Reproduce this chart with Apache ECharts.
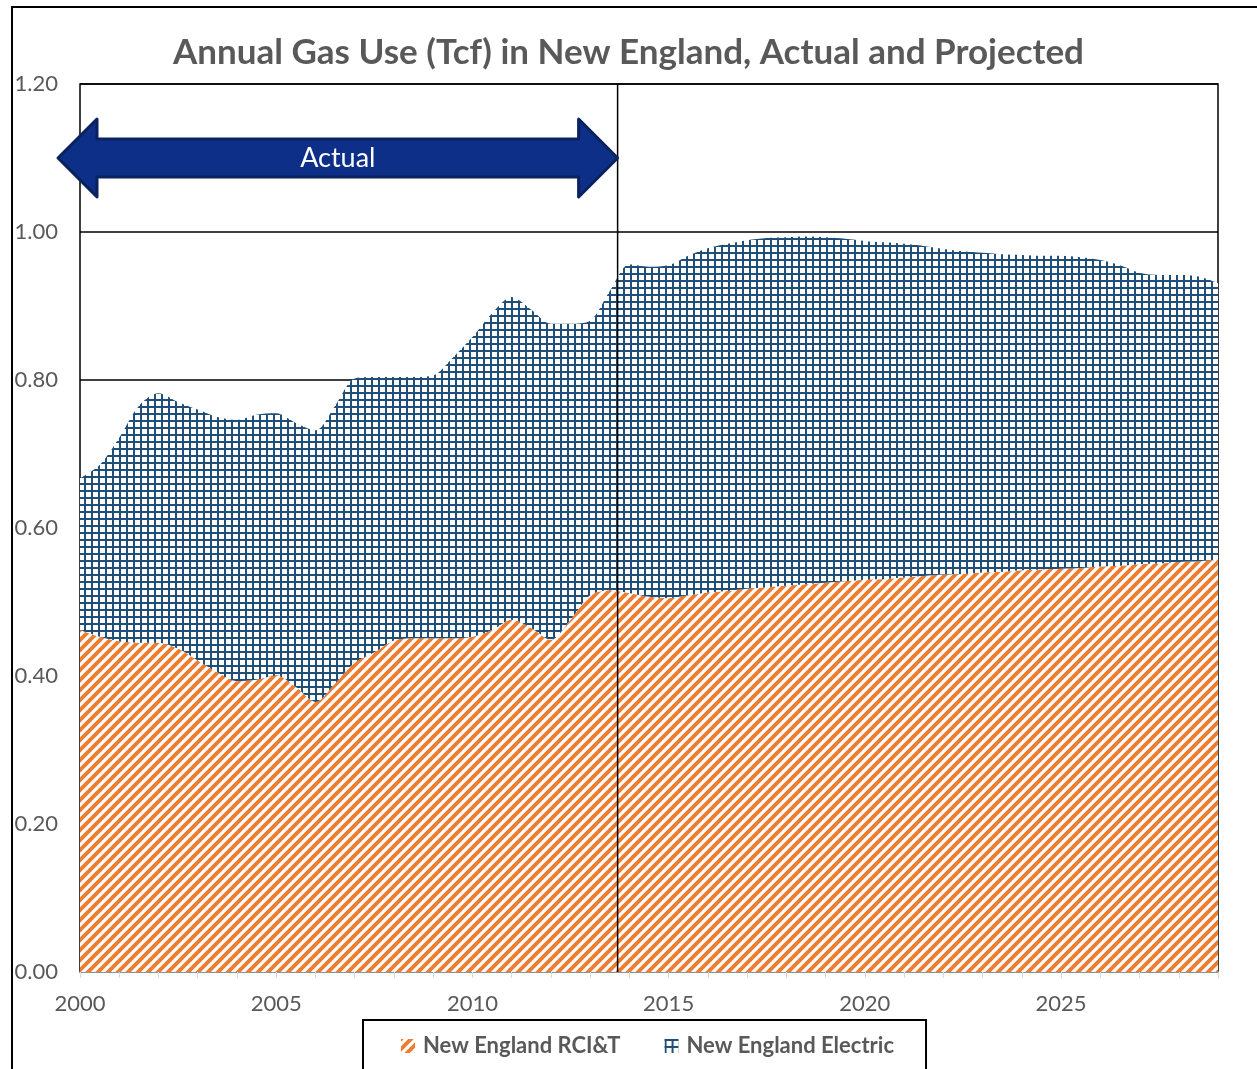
<html style="height: 100%">
	<head>
		<meta charset="utf-8">
	</head>
	<body style="height: 100%; width: 100%; margin: 0; background: #fff">
		<div id="container" style="height: 1069px; width: 1257px;"></div>
		<script type="text/javascript" src="https://cdn.jsdelivr.net/npm/echarts@6/dist/echarts.min.js"></script>
		<script type="text/javascript">
			// half-year steps, 2000 .. 2029
			var years = ['2000', '2000.5', '2001', '2001.5', '2002', '2002.5', '2003', '2003.5', '2004', '2004.5',
				'2005', '2005.5', '2006', '2006.5', '2007', '2007.5', '2008', '2008.5', '2009', '2009.5',
				'2010', '2010.5', '2011', '2011.5', '2012', '2012.5', '2013', '2013.5', '2014', '2014.5',
				'2015', '2015.5', '2016', '2016.5', '2017', '2017.5', '2018', '2018.5', '2019', '2019.5',
				'2020', '2020.5', '2021', '2021.5', '2022', '2022.5', '2023', '2023.5', '2024', '2024.5',
				'2025', '2025.5', '2026', '2026.5', '2027', '2027.5', '2028', '2028.5', '2029'
			];
			// Tcf
			var rciValues = [0.462, 0.453, 0.447, 0.445, 0.445, 0.437, 0.421, 0.405, 0.393, 0.395,
				0.401, 0.385, 0.365, 0.390, 0.418, 0.432, 0.448, 0.451, 0.451, 0.451,
				0.453, 0.462, 0.476, 0.465, 0.449, 0.476, 0.509, 0.516, 0.512, 0.507,
				0.505, 0.509, 0.513, 0.515, 0.518, 0.520, 0.522, 0.524, 0.526, 0.528,
				0.530, 0.531, 0.533, 0.535, 0.537, 0.538, 0.540, 0.541, 0.543, 0.544,
				0.545, 0.546, 0.548, 0.549, 0.551, 0.552, 0.554, 0.555, 0.557
			];
			var electricValues = [0.205, 0.232, 0.275, 0.320, 0.337, 0.333, 0.339, 0.345, 0.353, 0.358,
				0.354, 0.357, 0.367, 0.375, 0.384, 0.372, 0.356, 0.353, 0.355, 0.379,
				0.405, 0.428, 0.436, 0.430, 0.427, 0.400, 0.371, 0.404, 0.444, 0.446,
				0.450, 0.459, 0.465, 0.469, 0.471, 0.472, 0.471, 0.470, 0.467, 0.463,
				0.458, 0.455, 0.451, 0.446, 0.440, 0.436, 0.432, 0.429, 0.426, 0.424,
				0.423, 0.420, 0.414, 0.406, 0.394, 0.390, 0.388, 0.385, 0.374
			];
			var seriesNames = ['New England RCI&T', 'New England Electric'];
			var actualEnd = 2013.7;

			var textGray = '#595959';
			var font = 'Lato, "Open Sans", sans-serif';

			// hatch tiles
			function stripeTile() {
				var c = document.createElement('canvas');
				c.width = 10;
				c.height = 10;
				var ctx = c.getContext('2d');
				ctx.fillStyle = '#fff';
				ctx.fillRect(0, 0, 10, 10);
				ctx.strokeStyle = '#ed7d31';
				ctx.lineWidth = 3.9;
				for (var k = -1; k <= 1; k++) {
					ctx.beginPath();
					ctx.moveTo(k * 10 - 1, 11);
					ctx.lineTo(k * 10 + 11, -1);
					ctx.stroke();
				}
				return c;
			}

			function gridTile() {
				var c = document.createElement('canvas');
				c.width = 7;
				c.height = 7;
				var ctx = c.getContext('2d');
				ctx.fillStyle = '#fff';
				ctx.fillRect(0, 0, 7, 7);
				ctx.fillStyle = '#1f4e79';
				ctx.fillRect(0, 0, 2, 7);
				ctx.fillRect(0, 0, 7, 2);
				return c;
			}

			var orangeFill = { image: stripeTile(), repeat: 'repeat' };
			var blueFill = { image: gridTile(), repeat: 'repeat' };

			function isWholeYear(v) {
				return String(v).indexOf('.') < 0;
			}

			var dom = document.getElementById("container");
			var myChart = echarts.init(dom);

			var option = {
				backgroundColor: '#fff',
				animation: false,
				title: {
					text: 'Annual Gas Use (Tcf) in New England, Actual and Projected',
					left: 'center',
					top: 30,
					textStyle: {
						fontFamily: font,
						fontSize: 35,
						fontWeight: 'bold',
						color: textGray
					}
				},
				legend: {
					data: [{
						name: seriesNames[0],
						itemStyle: { color: orangeFill }
					}, {
						name: seriesNames[1],
						itemStyle: { color: blueFill }
					}],
					left: 363,
					top: 1020,
					padding: [15, 32, 30, 38],
					borderColor: '#000',
					borderWidth: 2,
					icon: 'rect',
					itemWidth: 14,
					itemHeight: 14,
					itemGap: 44,
					textStyle: {
						fontFamily: font,
						fontSize: 22,
						fontWeight: 'bold',
						color: textGray,
						padding: [0, 0, 0, 3]
					}
				},
				grid: {
					left: 80,
					right: 39,
					top: 84,
					bottom: 97,
					show: true,
					borderColor: '#000',
					borderWidth: 1.5
				},
				xAxis: {
					type: 'category',
					boundaryGap: false,
					data: years,
					axisLine: { lineStyle: { color: '#bfbfbf', width: 1.5 } },
					axisTick: {
						show: true,
						length: 6,
						lineStyle: { color: '#d9d9d9' },
						interval: function(idx) {
							return idx % 2 === 0;
						}
					},
					splitLine: { show: false },
					axisLabel: {
						margin: 21,
						fontFamily: font,
						fontSize: 22,
						color: textGray,
						interval: function(idx, v) {
							return isWholeYear(v) && Number(v) % 5 === 0 && Number(v) < 2029;
						}
					}
				},
				yAxis: {
					type: 'value',
					min: 0,
					max: 1.2,
					interval: 0.2,
					axisLine: { show: false },
					axisTick: { show: false },
					splitLine: { lineStyle: { color: '#000', width: 1.5 } },
					axisLabel: {
						margin: 22,
						fontFamily: font,
						fontSize: 22,
						color: textGray,
						formatter: function(v) {
							return v.toFixed(2);
						}
					}
				},
				series: [{
					name: seriesNames[0],
					type: 'line',
					stack: 'gas',
					smooth: 0.3,
					showSymbol: false,
					lineStyle: { width: 0, opacity: 0 },
					itemStyle: { color: orangeFill },
					areaStyle: { color: orangeFill, opacity: 1 },
					data: rciValues
				}, {
					name: seriesNames[1],
					type: 'line',
					stack: 'gas',
					smooth: 0.3,
					showSymbol: false,
					lineStyle: { width: 0, opacity: 0 },
					itemStyle: { color: blueFill },
					areaStyle: { color: blueFill, opacity: 1 },
					data: electricValues
				}]
			};

			myChart.setOption(option);

			// year -> pixel on the category axis (half-year steps)
			function yearToPx(y) {
				var pos = (y - 2000) * 2;
				var i0 = Math.floor(pos);
				var p0 = myChart.convertToPixel({ xAxisIndex: 0 }, years[i0]);
				var p1 = myChart.convertToPixel({ xAxisIndex: 0 }, years[i0 + 1]);
				return p0 + (pos - i0) * (p1 - p0);
			}

			var xEnd = yearToPx(actualEnd);
			var yTop = myChart.convertToPixel({ yAxisIndex: 0 }, 1.2);
			var yBot = myChart.convertToPixel({ yAxisIndex: 0 }, 0);
			var tipL = myChart.convertToPixel({ xAxisIndex: 0 }, years[0]) - 22;
			var tipR = xEnd;
			var cy = myChart.convertToPixel({ yAxisIndex: 0 }, 1.1);
			var head = 39, half = 39, shaft = 19;

			myChart.setOption({
				graphic: [{
					type: 'rect',
					silent: true,
					shape: { x: 12, y: 7, width: 1300, height: 1100 },
					style: { fill: 'none', stroke: '#000', lineWidth: 2 }
				}, {
					type: 'line',
					z: 50,
					shape: { x1: xEnd, y1: yTop, x2: xEnd, y2: yBot },
					style: { stroke: '#000', lineWidth: 1.5 }
				}, {
					type: 'polygon',
					z: 100,
					shape: {
						points: [
							[tipL, cy], [tipL + head, cy - half], [tipL + head, cy - shaft],
							[tipR - head, cy - shaft], [tipR - head, cy - half], [tipR, cy],
							[tipR - head, cy + half], [tipR - head, cy + shaft],
							[tipL + head, cy + shaft], [tipL + head, cy + half]
						]
					},
					style: { fill: '#0e2f87', stroke: '#0a2260', lineWidth: 3, lineJoin: 'round' }
				}, {
					type: 'text',
					z: 101,
					x: (tipL + tipR) / 2,
					y: cy,
					style: {
						text: 'Actual',
						fill: '#fff',
						fontFamily: font,
						fontSize: 27,
						align: 'center',
						verticalAlign: 'middle'
					}
				}]
			});
		</script>
	</body>
</html>
